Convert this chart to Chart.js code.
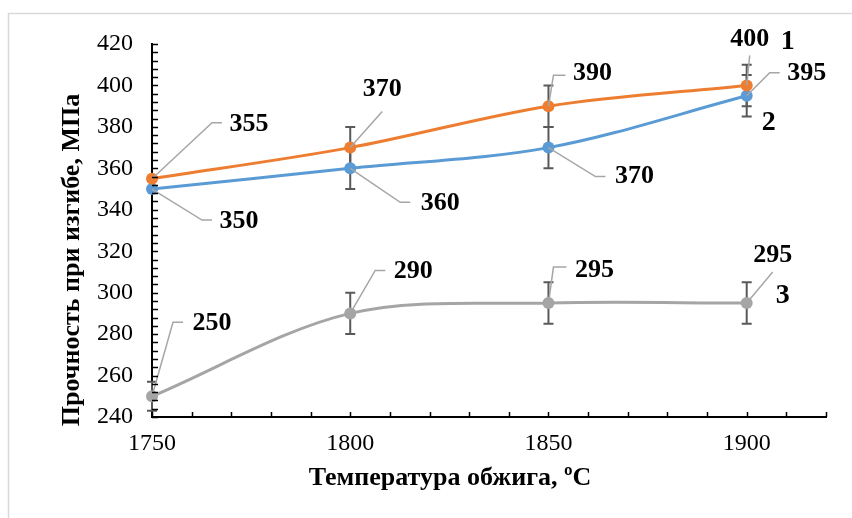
<!DOCTYPE html>
<html>
<head>
<meta charset="utf-8">
<script src="https://cdn.jsdelivr.net/npm/chart.js@4.4.1/dist/chart.umd.min.js"></script>
<style>
  html, body { margin: 0; padding: 0; background: #fff; }
  canvas { display: block; }
</style>
</head>
<body>
<canvas id="strengthChart" width="852" height="518"></canvas>
<script>
// ---- data ----
const temps = [1750, 1800, 1850, 1900];
const series1 = [355, 370, 390, 400];   // curve 1 (orange)
const series2 = [350, 360, 370, 395];   // curve 2 (blue)
const series3 = [250, 290, 295, 295];   // curve 3 (gray)
const err1 = [0, 10, 10, 10];
const err2 = [0, 10, 10, 10];
const err3 = [7, 10, 10, 10];
const seriesNames = ['1', '2', '3'];
const xTicks = [1750, 1800, 1850, 1900];
const yTicks = [240, 260, 280, 300, 320, 340, 360, 380, 400, 420];

const xTitle = 'Температура обжига, ºC';
const yTitle = 'Прочность при изгибе, МПа';

const allSeries = [series1, series2, series3];
const allErr = [err1, err2, err3];
const colors = ['#ED7D31', '#5B9BD5', '#A5A5A5'];

// label placement, pixel offsets from the point: text centre, leader elbow, leader end
const labelPos = [
  [[97, -54, 60, -56, 70], [32, -58, 32, -36, null], [44, -33, 5, -31, 17], [3, -46, 3, -30, null]],
  [[87, 32, 50, 31, 60], [90, 35, 50, 34, 60], [86, 29, 47, 29, 57], [60, -23, 23, -23, 33]],
  [[60, -73, 21, -74, 31], [63, -42, 25, -43, 35], [46, -33, 5, -36, 18], [26, -48, 26, -31, null]]
];
const namePos = [[41, -44], [22, 27], [36, -7]];

const FONT = "'Liberation Serif', 'Times New Roman', serif";
Chart.defaults.font.family = FONT;
Chart.defaults.color = '#000';

const framePlugin = {
  id: 'frame',
  beforeDraw(chart) {
    const ctx = chart.ctx;
    ctx.save();
    ctx.fillStyle = '#fff';
    ctx.fillRect(0, 0, chart.width, chart.height);
    ctx.strokeStyle = '#d9d9d9';
    ctx.lineWidth = 1.5;
    ctx.strokeRect(8.5, 13.5, 1000, 1000);
    ctx.restore();
  }
};

const axisExtras = {
  id: 'axisExtras',
  afterDraw(chart) {
    const ctx = chart.ctx;
    const xs = chart.scales.x, ys = chart.scales.y;
    const a = chart.chartArea;
    ctx.save();
    ctx.strokeStyle = '#000';
    ctx.lineWidth = 1.5;
    ctx.beginPath();
    for (let v = xs.min; v <= xs.max; v += 10) {
      const px = Math.round(xs.getPixelForValue(v)) + 0.5;
      ctx.moveTo(px, a.bottom);
      ctx.lineTo(px, a.bottom - 5);
    }
    for (let v = ys.min; v <= ys.max; v += 4) {
      const py = Math.round(ys.getPixelForValue(v)) + 0.5;
      ctx.moveTo(a.left, py);
      ctx.lineTo(a.left + 6, py);
    }
    ctx.stroke();

    // axis titles
    ctx.fillStyle = '#000';
    ctx.font = 'bold 26px ' + FONT;
    ctx.textAlign = 'center';
    ctx.textBaseline = 'middle';
    ctx.fillText(xTitle, 450, 478);
    ctx.translate(72, 260);
    ctx.rotate(-Math.PI / 2);
    ctx.fillText(yTitle, 0, 0);
    ctx.restore();
  }
};

const errorBars = {
  id: 'errorBars',
  beforeDatasetsDraw(chart) {
    const ctx = chart.ctx;
    const ys = chart.scales.y;
    ctx.save();
    ctx.strokeStyle = '#595959';
    ctx.lineWidth = 2;
    allSeries.forEach((s, d) => {
      const meta = chart.getDatasetMeta(d);
      s.forEach((val, i) => {
        const e = allErr[d][i];
        if (!e) return;
        const x = meta.data[i].x;
        const top = ys.getPixelForValue(val + e);
        const bot = ys.getPixelForValue(val - e);
        ctx.beginPath();
        ctx.moveTo(x, top); ctx.lineTo(x, bot);
        ctx.moveTo(x - 5, top); ctx.lineTo(x + 5, top);
        ctx.moveTo(x - 5, bot); ctx.lineTo(x + 5, bot);
        ctx.stroke();
      });
    });
    ctx.restore();
  }
};

const dataLabels = {
  id: 'dataLabels',
  afterDatasetsDraw(chart) {
    const ctx = chart.ctx;
    ctx.save();
    ctx.textAlign = 'center';
    ctx.textBaseline = 'middle';
    allSeries.forEach((s, d) => {
      const meta = chart.getDatasetMeta(d);
      s.forEach((val, i) => {
        const p = meta.data[i];
        const [tx, ty, ex, ey, hx] = labelPos[d][i];
        ctx.strokeStyle = '#A6A6A6';
        ctx.lineWidth = 1.5;
        ctx.beginPath();
        ctx.moveTo(p.x, p.y);
        ctx.lineTo(p.x + ex, p.y + ey);
        if (hx !== null) ctx.lineTo(p.x + hx, p.y + ey);
        ctx.stroke();
        ctx.fillStyle = '#000';
        ctx.font = 'bold 26px ' + FONT;
        ctx.fillText(String(val), p.x + tx, p.y + ty);
      });
      const last = meta.data[s.length - 1];
      ctx.font = 'bold 28px ' + FONT;
      ctx.fillText(seriesNames[d], last.x + namePos[d][0], last.y + namePos[d][1]);
    });
    ctx.restore();
  }
};

const datasets = allSeries.map((s, d) => ({
  label: seriesNames[d],
  data: temps.map((t, i) => ({ x: t, y: s[i] })),
  borderColor: colors[d],
  backgroundColor: colors[d],
  pointBackgroundColor: colors[d],
  pointBorderWidth: 0,
  pointRadius: 6,
  borderWidth: 3,
  tension: 0.33,
  clip: false
}));

new Chart(document.getElementById('strengthChart'), {
  type: 'line',
  data: { datasets },
  options: {
    responsive: false,
    animation: false,
    devicePixelRatio: 1,
    layout: { padding: { left: 8, top: 44, right: 26, bottom: 0 } },
    plugins: { legend: { display: false }, tooltip: { enabled: false } },
    scales: {
      x: {
        type: 'linear', min: 1750, max: 1920,
        afterBuildTicks: s => { s.ticks = xTicks.map(v => ({ value: v })); },
        afterFit: s => { s.height = 101; },
        grid: { display: false, drawTicks: false },
        border: { display: true, color: '#000', width: 2 },
        ticks: { font: { size: 24 }, color: '#000', padding: 12, maxRotation: 0, callback: v => String(v) }
      },
      y: {
        min: 240, max: 420,
        afterBuildTicks: s => { s.ticks = yTicks.map(v => ({ value: v })); },
        afterFit: s => { s.width = 144; },
        grid: { display: false, drawTicks: false },
        border: { display: true, color: '#000', width: 2 },
        ticks: { font: { size: 24 }, color: '#000', padding: 19, callback: v => String(v) }
      }
    }
  },
  plugins: [framePlugin, errorBars, dataLabels, axisExtras]
});
</script>
</body>
</html>
